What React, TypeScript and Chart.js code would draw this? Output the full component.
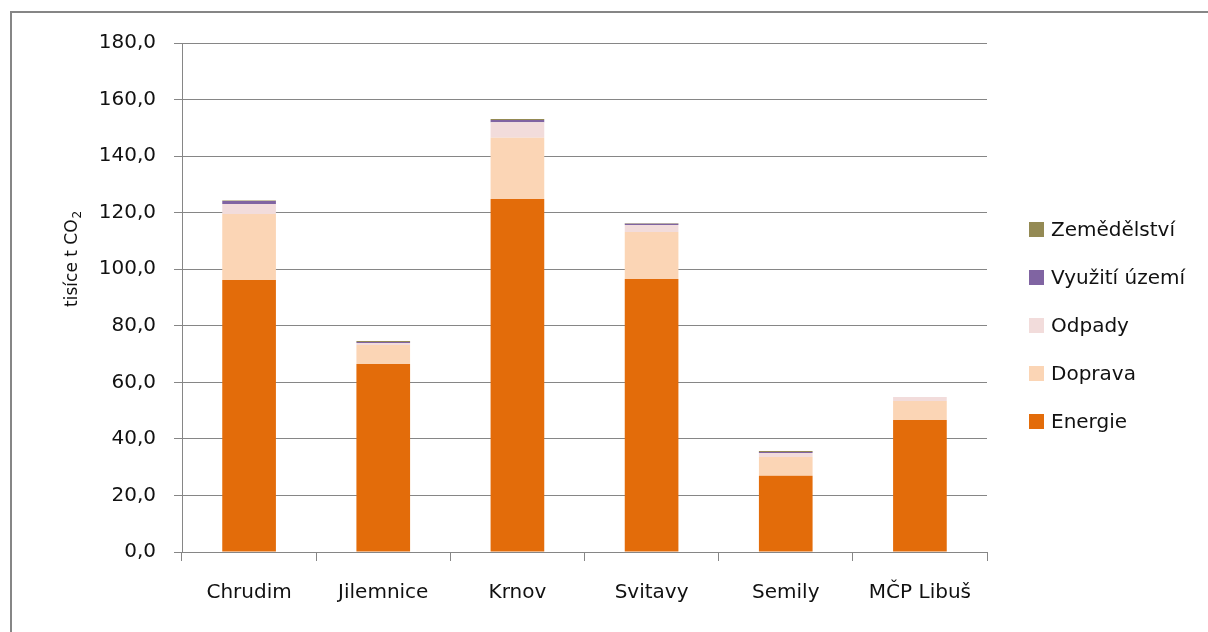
import React, { useEffect, useRef } from "react";
import { Chart, registerables } from "chart.js";

Chart.register(...registerables);

const categories = ["Chrudim", "Jilemnice", "Krnov", "Svitavy", "Semily", "MČP Libuš"];
const energie = [96.2, 66.5, 124.8, 96.5, 27.0, 46.7];
const doprava = [23.3, 6.7, 21.7, 16.7, 6.6, 6.7];
const odpady = [3.6, 0.7, 5.5, 2.4, 1.4, 1.4];
const vyuziti = [1.0, 0.4, 0.8, 0.5, 0.4, 0.0];
const zemedelstvi = [0.2, 0.3, 0.3, 0.2, 0.3, 0.0];

const seriesNames = ["Energie", "Doprava", "Odpady", "Využití území", "Zemědělství"];
const seriesColors = ["#E36C0A", "#FBD5B5", "#F2DCDB", "#8064A2", "#948A54"];
const seriesValues = [energie, doprava, odpady, vyuziti, zemedelstvi];

const yTicksMin = 0;
const yTicksMax = 180;
const yTicksStep = 20;
const yTitleMain = "tisíce t CO";
const yTitleSub = "2";

const FONT = "'DejaVu Sans', sans-serif";
const GRID = "#868686";

const yTitlePlugin = {
  id: "yTitleSub",
  afterDraw(chart: any) {
    const c = chart.ctx;
    const area = chart.chartArea;
    const mainSize = 17;
    const subSize = 12;
    c.save();
    c.fillStyle = "#111";
    c.font = `${mainSize}px ${FONT}`;
    const wMain = c.measureText(yTitleMain).width;
    c.font = `${subSize}px ${FONT}`;
    const wSub = c.measureText(yTitleSub).width;
    const total = wMain + wSub;
    const cx = 77;
    const cy = area.top + (area.bottom - area.top) * 0.425;
    c.translate(cx, cy);
    c.rotate(-Math.PI / 2);
    c.textBaseline = "alphabetic";
    c.textAlign = "left";
    c.font = `${mainSize}px ${FONT}`;
    c.fillText(yTitleMain, -total / 2, 0);
    c.font = `${subSize}px ${FONT}`;
    c.fillText(yTitleSub, -total / 2 + wMain + 1, 4);
    c.restore();
  },
};

export default function App() {
  const canvasRef = useRef<HTMLCanvasElement | null>(null);

  useEffect(() => {
    const prevMargin = document.body.style.margin;
    document.body.style.margin = "0";
    const ctx = canvasRef.current;
    if (!ctx) return;
    const chart = new Chart(ctx, {
      type: "bar",
      data: {
        labels: categories,
        datasets: seriesNames.map((name, i) => ({
          label: name,
          data: seriesValues[i],
          backgroundColor: seriesColors[i],
          borderWidth: 0,
          barPercentage: 0.4,
          categoryPercentage: 1.0,
        })),
      },
      plugins: [yTitlePlugin],
      options: {
        animation: false,
        responsive: false,
        maintainAspectRatio: false,
        layout: { padding: { top: 43, right: 221, bottom: 0, left: 0 } },
        plugins: {
          legend: { display: false },
          tooltip: { enabled: false },
        },
        scales: {
          x: {
            stacked: true,
            offset: true,
            grid: {
              display: true,
              offset: true,
              drawOnChartArea: false,
              drawTicks: true,
              tickLength: 9,
              color: GRID,
              lineWidth: 1,
            },
            border: { display: true, color: GRID, width: 1 },
            ticks: {
              color: "#111",
              font: { family: FONT, size: 20 },
              padding: 20,
              maxRotation: 0,
            },
            afterFit: (scale: any) => {
              scale.height = 80;
            },
          },
          y: {
            stacked: true,
            min: yTicksMin,
            max: yTicksMax,
            grid: {
              color: GRID,
              lineWidth: 1,
              drawTicks: true,
              tickLength: 8,
            },
            border: { display: true, color: GRID, width: 1 },
            ticks: {
              stepSize: yTicksStep,
              color: "#111",
              font: { family: FONT, size: 20 },
              padding: 18,
              callback: (v: any) => Number(v).toFixed(1).replace(".", ","),
            },
            title: { display: false },
            afterFit: (scale: any) => {
              scale.width = 182;
            },
          },
        },
      },
    });
    return () => {
      chart.destroy();
      document.body.style.margin = prevMargin;
    };
  }, []);

  const legendOrder = [4, 3, 2, 1, 0];

  return (
    <div style={{ position: "fixed", left: 0, top: 0, width: 1208, height: 632, background: "#fff", overflow: "hidden" }}>
      <div
        style={{
          position: "absolute",
          left: 10,
          top: 11,
          width: 1208,
          height: 700,
          borderLeft: `2px solid ${GRID}`,
          borderTop: `2px solid ${GRID}`,
        }}
      />
      <canvas ref={canvasRef} width={1208} height={632} style={{ position: "absolute", left: 0, top: 0, width: 1208, height: 632 }} />
      {legendOrder.map((idx, k) => (
        <div
          key={seriesNames[idx]}
          style={{
            position: "absolute",
            left: 1029,
            top: 229 + k * 48 - 12,
            height: 24,
            display: "flex",
            alignItems: "center",
            fontFamily: FONT,
            fontSize: 20,
            color: "#111",
            whiteSpace: "nowrap",
          }}
        >
          <span style={{ display: "inline-block", width: 15, height: 15, background: seriesColors[idx], marginRight: 7 }} />
          <span>{seriesNames[idx]}</span>
        </div>
      ))}
    </div>
  );
}
